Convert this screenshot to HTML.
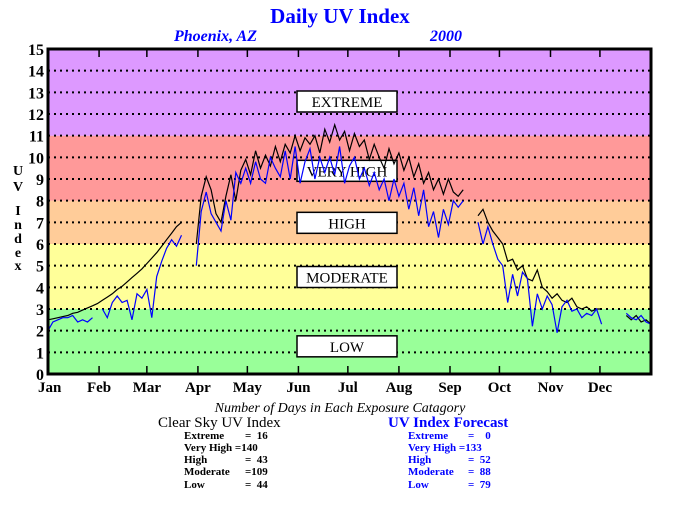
<!DOCTYPE html>
<html><head><meta charset="utf-8"><style>
body{margin:0;background:#fff;}
svg text{font-family:"Liberation Serif",serif;white-space:pre;}
</style></head><body>
<svg id="chart" width="680" height="500" viewBox="0 0 680 500" xmlns="http://www.w3.org/2000/svg" xml:space="preserve">
<text x="340" y="23" text-anchor="middle" font-size="21" font-weight="bold" fill="#0000ff">Daily UV Index</text>
<text x="174" y="41" font-size="16" font-weight="bold" font-style="italic" fill="#0000ff">Phoenix, AZ</text>
<text x="430" y="41" font-size="16" font-weight="bold" font-style="italic" fill="#0000ff">2000</text>
<g id="bands"></g>
<g id="grid"></g>
<g id="boxes"></g>
<g id="series"></g>
<g id="axes"></g>
<g font-size="14" font-weight="bold" text-anchor="middle">
<text x="18" y="175">U</text><text x="18" y="191">V</text><text x="18" y="215">I</text><text x="18" y="229">n</text><text x="18" y="243">d</text><text x="18" y="257">e</text><text x="18" y="270">x</text>
</g>
<text x="340" y="412" text-anchor="middle" font-size="14" font-style="italic">Number of Days in Each Exposure Catagory</text>
<g font-weight="bold">
<text x="158" y="427" font-size="15" font-weight="normal">Clear Sky UV Index</text>
<g font-size="11">
<text x="184" y="439">Extreme</text><text x="245" y="439">=  16</text>
<text x="184" y="451">Very High =140</text>
<text x="184" y="463">High</text><text x="245" y="463">=  43</text>
<text x="184" y="475">Moderate</text><text x="245" y="475">=109</text>
<text x="184" y="488">Low</text><text x="245" y="488">=  44</text>
</g></g>
<g font-weight="bold" fill="#0000ff">
<text x="388" y="427" font-size="15">UV Index Forecast</text>
<g font-size="11">
<text x="408" y="439">Extreme</text><text x="468" y="439">=    0</text>
<text x="408" y="451">Very High =133</text>
<text x="408" y="463">High</text><text x="468" y="463">=  52</text>
<text x="408" y="475">Moderate</text><text x="468" y="475">=  88</text>
<text x="408" y="488">Low</text><text x="468" y="488">=  79</text>
</g></g>
</svg>
<script>
const yTicks=[0,1,2,3,4,5,6,7,8,9,10,11,12,13,14,15];
const months=["Jan","Feb","Mar","Apr","May","Jun","Jul","Aug","Sep","Oct","Nov","Dec"];
const monthStart=[0,31,60,91,121,152,182,213,244,274,305,335];
const bandLo=[0,3,6,8,11];
const bandHi=[3,6,8,11,15];
const bandColors=["#99ff99","#ffff99","#ffcc99","#ff9999","#dd99ff"];
const boxLabels=["LOW","MODERATE","HIGH","VERY HIGH","EXTREME"];
const boxValues=[1.3,4.5,7.0,9.4,12.6];
const days=[];for(let d=0;d<=366;d+=3)days.push(d);
const clearSky=[2.5,2.55,2.6,2.65,2.7,2.8,2.85,2.95,3.05,3.15,3.25,3.4,3.55,3.7,3.9,4.05,4.25,4.45,4.65,4.85,5.1,5.35,5.6,5.9,6.2,6.5,6.8,7.0,null,null,6.0,8.2,9.1,8.5,7.4,7.0,8.2,9.2,8.0,9.4,9.9,9.2,10.3,9.5,10.1,9.6,10.5,9.8,10.6,10.2,11.0,10.3,10.9,10.6,11.0,10.2,11.3,10.7,11.5,10.8,11.2,10.3,11.1,10.5,10.8,9.9,10.6,10.0,9.5,10.4,9.7,10.2,9.4,10.0,9.1,9.7,8.8,9.3,8.5,9.0,8.3,9.0,8.4,8.2,8.5,null,null,7.3,7.6,7.0,6.6,6.3,6.0,5.2,5.3,4.8,5.0,4.4,4.3,4.8,4.0,3.8,3.5,3.7,3.4,3.3,3.5,3.1,3.0,3.1,2.9,3.0,3.0,null,null,null,null,2.7,2.5,2.7,2.4,2.5,2.3];
const forecast=[2.0,2.4,2.5,2.6,2.6,2.7,2.4,2.5,2.4,2.6,null,3.0,2.6,3.3,3.6,3.3,3.4,2.5,3.7,3.5,3.9,2.6,4.5,5.2,5.8,6.2,5.9,6.4,null,null,5.0,7.5,8.4,7.4,7.0,6.6,8.0,7.1,9.3,8.8,9.5,8.8,9.8,9.0,8.8,10.0,9.5,9.1,10.3,9.0,10.5,8.8,9.8,10.4,9.0,10.0,9.3,10.0,9.2,10.5,8.8,9.6,10.0,9.0,9.5,8.7,9.3,8.5,9.0,8.0,9.0,8.2,8.8,7.6,8.6,7.3,8.5,6.8,7.5,6.3,7.6,6.9,8.0,7.7,8.0,null,null,7.0,6.0,6.8,6.0,5.3,5.0,3.3,4.6,3.6,4.7,4.4,2.2,3.7,3.0,3.6,3.2,1.9,3.1,3.4,2.9,3.0,2.6,2.8,2.7,3.0,2.3,null,null,null,null,2.8,2.6,2.5,2.7,2.4,2.3];
const X0=48,X1=651,Y0=374,Y15=49;
const xs=d=>X0+d*(X1-X0)/366;
const ys=v=>Y0-v*(Y0-Y15)/15;
const NS="http://www.w3.org/2000/svg";
function mk(tag,parent,attrs){const e=document.createElementNS(NS,tag);for(const k in attrs)e.setAttribute(k,attrs[k]);document.getElementById(parent).appendChild(e);return e;}
bandLo.forEach((lo,i)=>{
 const r=mk("rect","bands",{x:X0,y:ys(bandHi[i]),width:X1-X0,height:ys(lo)-ys(bandHi[i]),fill:bandColors[i]});
 
 
});
yTicks.forEach(v=>{
 if(v>0&&v<15){const l=mk("line","grid",{x1:X0,x2:X1,y1:ys(v),y2:ys(v),stroke:"#000","stroke-width":2,"stroke-dasharray":"2 4"});
 
 }
 const t=mk("text","axes",{x:44,y:ys(v)+6,"text-anchor":"end","font-size":16,"font-weight":"bold"});t.textContent=v;
 
 
});
boxLabels.forEach((lab,i)=>{
 const cy=ys(boxValues[i]);
 const r=mk("rect","boxes",{x:297,y:cy-10,width:100,height:21,fill:"#fff",stroke:"#000","stroke-width":1.5});
 
 
 const t=mk("text","boxes",{x:347,y:cy+6,"text-anchor":"middle","font-size":15});t.textContent=lab;
 
 
});
function drawSeries(vals,color,name){
 let d="",pen=false;
 vals.forEach((v,i)=>{if(v===null){pen=false;return;}d+=(pen?"L":"M")+xs(days[i]).toFixed(1)+" "+ys(v).toFixed(1)+" ";pen=true;});
 const p=mk("path","series",{d:d,fill:"none",stroke:color,"stroke-width":1.2});
 
 
}
drawSeries(clearSky,"#000","clear-sky-line");
drawSeries(forecast,"#0000ff","forecast-line");
const fr=mk("rect","axes",{x:X0,y:Y15,width:X1-X0,height:Y0-Y15,fill:"none",stroke:"#000","stroke-width":3});


months.forEach((m,i)=>{
 const x=xs(monthStart[i]);
 if(i>0){mk("line","axes",{x1:x,x2:x,y1:Y0,y2:Y0-8,stroke:"#000","stroke-width":1.5});
 mk("line","axes",{x1:x,x2:x,y1:Y15,y2:Y15+8,stroke:"#000","stroke-width":1.5});}
 const t=mk("text","axes",{x:i==0?x-10:x,y:392,"text-anchor":i==0?"start":"middle","font-size":15,"font-weight":"bold"});t.textContent=m;
 
 
});
</script>
</body></html>
